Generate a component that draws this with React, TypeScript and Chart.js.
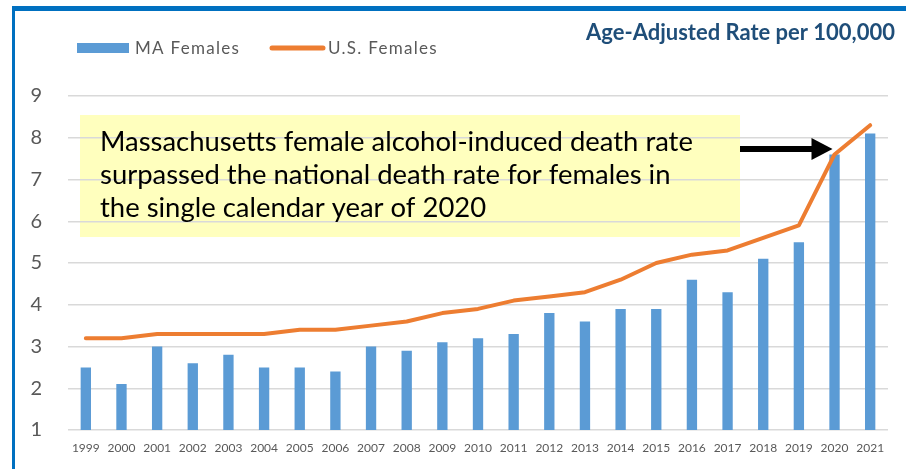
import React, { useEffect, useRef } from "react";
import { Chart, registerables } from "chart.js";

Chart.register(...registerables);

const years = ["1999","2000","2001","2002","2003","2004","2005","2006","2007","2008","2009","2010","2011","2012","2013","2014","2015","2016","2017","2018","2019","2020","2021"];
const maFemales = [2.5, 2.1, 3.0, 2.6, 2.8, 2.5, 2.5, 2.4, 3.0, 2.9, 3.1, 3.2, 3.3, 3.8, 3.6, 3.9, 3.9, 4.6, 4.3, 5.1, 5.5, 7.6, 8.1];
const usFemales = [3.2, 3.2, 3.3, 3.3, 3.3, 3.3, 3.4, 3.4, 3.5, 3.6, 3.8, 3.9, 4.1, 4.2, 4.3, 4.6, 5.0, 5.2, 5.3, 5.6, 5.9, 7.6, 8.3];
const yMin = 1;
const yMax = 9;
const unitsLabel = "Age-Adjusted Rate per 100,000";
const noteLines = [
  "Massachusetts female alcohol-induced death rate",
  "surpassed the national death rate for females in",
  "the single calendar year of 2020",
];
const arrowYear = "2020";

const FONT = "Lato, 'Open Sans', sans-serif";

const decorPlugin = {
  id: "decor",
  beforeDraw(chart: any) {
    const ctx = chart.ctx;
    ctx.save();
    ctx.fillStyle = "#FFFFBE";
    ctx.fillRect(80, 115, 660, 122);
    // frame
    ctx.fillStyle = "#0070C0";
    ctx.fillRect(12, 6, 906, 5);
    ctx.fillRect(12, 6, 3, 469);
    ctx.restore();
  },
  afterDraw(chart: any) {
    const ctx = chart.ctx;
    ctx.save();
    // legend
    const ds = chart.data.datasets;
    const bar = ds.find((d: any) => d.type === "bar");
    const line = ds.find((d: any) => d.type === "line");
    ctx.font = `17px ${FONT}`;
    (ctx as any).letterSpacing = "1.3px";
    ctx.fillStyle = bar.backgroundColor;
    ctx.fillRect(77, 43, 52, 10);
    ctx.fillStyle = "#595959";
    ctx.textBaseline = "alphabetic";
    ctx.textAlign = "left";
    ctx.fillText(bar.label, 135, 54);
    ctx.strokeStyle = line.borderColor;
    ctx.lineWidth = 5;
    ctx.lineCap = "round";
    ctx.beginPath();
    ctx.moveTo(272, 48);
    ctx.lineTo(323, 48);
    ctx.stroke();
    ctx.fillText(line.label, 328, 54);
    (ctx as any).letterSpacing = "0px";

    // units label
    ctx.font = `bold 18px ${FONT}`;
    let w = ctx.measureText(unitsLabel).width;
    const us = 18 * (309 / w);
    ctx.font = `bold ${us.toFixed(2)}px ${FONT}`;
    ctx.fillStyle = "#1F4E79";
    ctx.textAlign = "right";
    ctx.fillText(unitsLabel, 895, 40);

    // note text
    ctx.textAlign = "left";
    ctx.font = `24px ${FONT}`;
    w = ctx.measureText(noteLines[0]).width;
    const ns = 24 * (593 / w);
    ctx.font = `${ns.toFixed(2)}px ${FONT}`;
    ctx.fillStyle = "#000000";
    const baselines = [151, 184, 217];
    noteLines.forEach((t, i) => ctx.fillText(t, 100, baselines[i]));

    // arrow
    const xs = chart.scales.x;
    const tipX = xs.getPixelForValue(years.indexOf(arrowYear)) - 2;
    const ay = 149;
    ctx.fillStyle = "#000000";
    ctx.fillRect(740, ay - 3, tipX - 20 - 740, 6);
    ctx.beginPath();
    ctx.moveTo(tipX - 21, ay - 11);
    ctx.lineTo(tipX, ay);
    ctx.lineTo(tipX - 21, ay + 11);
    ctx.closePath();
    ctx.fill();
    ctx.restore();
  },
};

export default function App() {
  const ref = useRef<HTMLCanvasElement | null>(null);
  useEffect(() => {
    if (!ref.current) return;
    const chart = new Chart(ref.current, {
      type: "bar",
      data: {
        labels: years,
        datasets: [
          {
            type: "line",
            label: "U.S. Females",
            data: usFemales,
            borderColor: "#ED7D31",
            backgroundColor: "#ED7D31",
            borderWidth: 4,
            pointRadius: 0,
            tension: 0,
            borderCapStyle: "round",
            borderJoinStyle: "round",
            order: 0,
          } as any,
          {
            type: "bar",
            label: "MA Females",
            data: maFemales,
            backgroundColor: "#5B9BD5",
            barPercentage: 0.29,
            categoryPercentage: 1,
            order: 1,
          } as any,
        ],
      },
      options: {
        animation: false,
        responsive: false,
        devicePixelRatio: 1,
        layout: { padding: { top: 96, right: 18, left: 0, bottom: 0 } },
        plugins: { legend: { display: false }, tooltip: { enabled: false } },
        scales: {
          x: {
            grid: { display: false, drawTicks: false },
            border: { display: false },
            ticks: {
              font: { family: FONT, size: 12 },
              color: "#595959",
              padding: 11,
              maxRotation: 0,
              autoSkip: false,
            },
            afterFit(s: any) { s.height = 39; },
          },
          y: {
            min: yMin,
            max: yMax,
            grid: { color: "#D9D9D9", lineWidth: 1.5, drawTicks: false },
            border: { display: false },
            ticks: {
              stepSize: 1,
              font: { family: FONT, size: 20 },
              color: "#595959",
              padding: 26,
            },
            afterFit(s: any) { s.width = 68; },
          },
        },
      } as any,
      plugins: [decorPlugin],
    });
    return () => chart.destroy();
  }, []);
  return (
    <div style={{ position: "absolute", left: 0, top: 0, width: 906, height: 469, background: "#fff" }}>
      <canvas ref={ref} width={906} height={469} style={{ display: "block" }} />
    </div>
  );
}
